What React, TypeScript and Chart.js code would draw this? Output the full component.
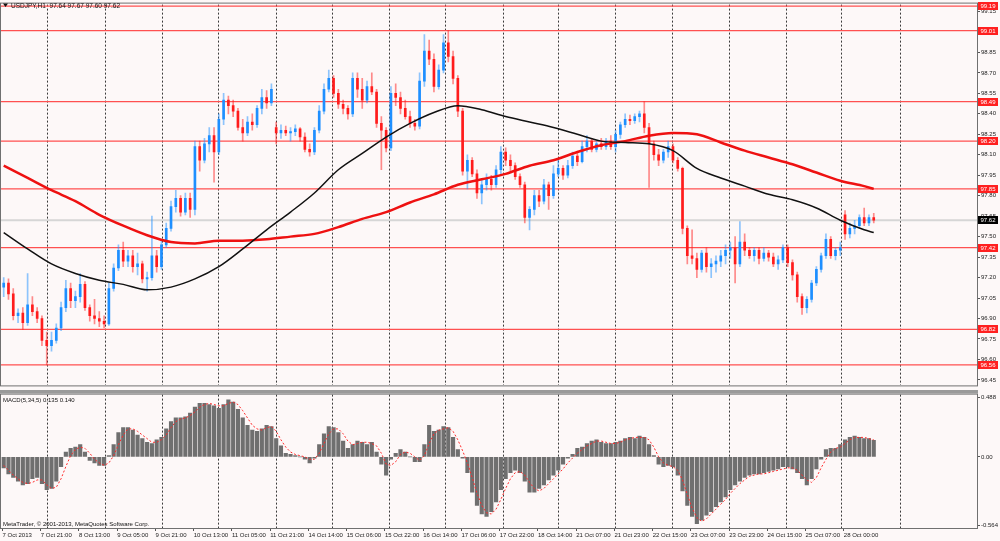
import React, { useEffect, useRef } from "react";
import { Chart, registerables } from "chart.js";

Chart.register(...registerables);

const FONT = "'Liberation Sans', Arial, sans-serif";
Chart.defaults.font.family = FONT;
Chart.defaults.font.size = 6;

const BG = "#fdf8f8";

const symbolTitle = "USDJPY,H1  97.64 97.67 97.60 97.62";
const macdTitle = "MACD(5,34,5) 0.135 0.140";
const copyright = "MetaTrader, \u00a9 2001-2013, MetaQuotes Software Corp.";

// 2-hour candles [open, high, low, close], 7 Oct 05:00 .. 28 Oct 13:00
const candles: number[][] = [
  [97.13, 97.2, 97.06, 97.16], [97.16, 97.19, 97.04, 97.08], [97.08, 97.12, 96.89, 96.92], [96.92, 96.97, 96.87, 96.94],
  [96.94, 96.98, 96.82, 96.87], [96.87, 97.23, 96.85, 97.0], [97.0, 97.06, 96.92, 96.95], [96.95, 96.98, 96.87, 96.9],
  [96.9, 96.92, 96.7, 96.74], [96.74, 96.8, 96.56, 96.7], [96.7, 96.8, 96.66, 96.74], [96.74, 96.86, 96.72, 96.83],
  [96.83, 97.02, 96.81, 96.98], [96.98, 97.18, 96.95, 97.12], [97.12, 97.16, 96.98, 97.03], [97.03, 97.1, 96.98, 97.06],
  [97.06, 97.23, 97.02, 97.15], [97.15, 97.17, 96.96, 96.98], [96.98, 97.0, 96.88, 96.92], [96.92, 97.04, 96.86, 96.9],
  [96.9, 96.95, 96.84, 96.88], [96.88, 96.92, 96.83, 96.86], [96.86, 97.16, 96.85, 97.12], [97.12, 97.3, 97.1, 97.27],
  [97.27, 97.44, 97.25, 97.4], [97.4, 97.46, 97.28, 97.32], [97.32, 97.4, 97.28, 97.36], [97.36, 97.4, 97.24, 97.28],
  [97.28, 97.38, 97.22, 97.3], [97.3, 97.32, 97.16, 97.19], [97.19, 97.24, 97.1, 97.2], [97.2, 97.65, 97.18, 97.36],
  [97.36, 97.4, 97.24, 97.28], [97.28, 97.48, 97.26, 97.44], [97.44, 97.6, 97.42, 97.56], [97.56, 97.76, 97.54, 97.72],
  [97.72, 97.84, 97.68, 97.78], [97.78, 97.8, 97.65, 97.68], [97.68, 97.82, 97.66, 97.78], [97.78, 97.82, 97.64, 97.7],
  [97.7, 98.2, 97.66, 98.16], [98.16, 98.2, 97.98, 98.06], [98.06, 98.22, 98.04, 98.18], [98.18, 98.3, 98.12, 98.24],
  [98.24, 98.3, 97.9, 98.12], [98.12, 98.4, 98.1, 98.36], [98.36, 98.55, 98.32, 98.5], [98.5, 98.53, 98.4, 98.46],
  [98.46, 98.5, 98.38, 98.42], [98.42, 98.44, 98.28, 98.3], [98.3, 98.36, 98.2, 98.26], [98.26, 98.38, 98.24, 98.34],
  [98.34, 98.4, 98.28, 98.32], [98.32, 98.46, 98.3, 98.44], [98.44, 98.58, 98.4, 98.52], [98.52, 98.57, 98.44, 98.48],
  [98.48, 98.62, 98.46, 98.58], [98.3, 98.34, 98.18, 98.26], [98.26, 98.32, 98.22, 98.28], [98.28, 98.31, 98.24, 98.26],
  [98.26, 98.3, 98.2, 98.27], [98.27, 98.32, 98.24, 98.29], [98.29, 98.3, 98.2, 98.23], [98.23, 98.26, 98.12, 98.14],
  [98.14, 98.18, 98.09, 98.12], [98.12, 98.3, 98.1, 98.28], [98.28, 98.46, 98.26, 98.42], [98.42, 98.62, 98.4, 98.58],
  [98.58, 98.72, 98.56, 98.66], [98.66, 98.68, 98.52, 98.55], [98.55, 98.58, 98.44, 98.47], [98.47, 98.5, 98.4, 98.44],
  [98.44, 98.46, 98.36, 98.4], [98.4, 98.7, 98.38, 98.66], [98.66, 98.7, 98.52, 98.58], [98.58, 98.66, 98.44, 98.5],
  [98.5, 98.64, 98.48, 98.6], [98.6, 98.7, 98.54, 98.56], [98.56, 98.58, 98.3, 98.33], [98.33, 98.38, 97.99, 98.28],
  [98.28, 98.3, 98.12, 98.15], [98.15, 98.6, 98.13, 98.55], [98.55, 98.62, 98.46, 98.52], [98.52, 98.56, 98.4, 98.44],
  [98.44, 98.5, 98.36, 98.38], [98.38, 98.42, 98.3, 98.33], [98.33, 98.36, 98.28, 98.31], [98.31, 98.7, 98.29, 98.64],
  [98.64, 98.98, 98.6, 98.86], [98.86, 98.94, 98.76, 98.8], [98.8, 98.84, 98.56, 98.6], [98.6, 98.76, 98.58, 98.72],
  [98.72, 98.98, 98.7, 98.92], [98.92, 99.01, 98.78, 98.82], [98.82, 98.86, 98.62, 98.66], [98.66, 98.68, 98.38, 98.42],
  [98.42, 98.44, 97.95, 97.98], [97.98, 98.1, 97.85, 98.06], [98.06, 98.08, 97.94, 97.96], [97.96, 97.99, 97.78, 97.82],
  [97.82, 97.92, 97.74, 97.88], [97.88, 97.96, 97.84, 97.92], [97.92, 97.95, 97.84, 97.88], [97.88, 98.02, 97.86, 97.99],
  [97.99, 98.16, 97.96, 98.12], [98.12, 98.15, 98.02, 98.06], [98.06, 98.1, 97.98, 98.02], [98.02, 98.04, 97.92, 97.94],
  [97.94, 97.96, 97.86, 97.88], [97.88, 97.9, 97.6, 97.64], [97.64, 97.72, 97.55, 97.7], [97.7, 97.84, 97.66, 97.8],
  [97.8, 97.84, 97.72, 97.76], [97.76, 97.92, 97.74, 97.88], [97.88, 97.9, 97.7, 97.8], [97.8, 98.02, 97.78, 97.96],
  [97.96, 98.06, 97.94, 98.0], [98.0, 98.02, 97.92, 97.95], [97.95, 98.06, 97.93, 98.02], [98.02, 98.12, 98.0, 98.09],
  [98.09, 98.12, 98.02, 98.05], [98.05, 98.2, 98.04, 98.16], [98.16, 98.24, 98.12, 98.2], [98.2, 98.22, 98.12, 98.14],
  [98.14, 98.2, 98.12, 98.18], [98.18, 98.22, 98.14, 98.16], [98.16, 98.22, 98.14, 98.2], [98.2, 98.24, 98.14, 98.16],
  [98.16, 98.28, 98.12, 98.25], [98.25, 98.34, 98.22, 98.32], [98.32, 98.4, 98.3, 98.36], [98.36, 98.39, 98.32, 98.35],
  [98.35, 98.4, 98.33, 98.38], [98.38, 98.42, 98.34, 98.4], [98.4, 98.49, 98.26, 98.3], [98.3, 98.33, 97.86, 98.18],
  [98.18, 98.2, 98.06, 98.1], [98.1, 98.14, 98.02, 98.06], [98.06, 98.14, 98.04, 98.12], [98.12, 98.2, 98.08, 98.16],
  [98.16, 98.18, 98.04, 98.06], [98.06, 98.08, 97.98, 98.0], [98.0, 98.01, 97.52, 97.56], [97.56, 97.58, 97.3, 97.36],
  [97.36, 97.55, 97.3, 97.34], [97.34, 97.38, 97.2, 97.26], [97.26, 97.4, 97.24, 97.38], [97.38, 97.42, 97.24, 97.28],
  [97.28, 97.34, 97.2, 97.3], [97.3, 97.36, 97.24, 97.32], [97.32, 97.4, 97.28, 97.36], [97.36, 97.44, 97.3, 97.4],
  [97.4, 97.46, 97.34, 97.42], [97.42, 97.5, 97.16, 97.3], [97.3, 97.61, 97.28, 97.46], [97.46, 97.52, 97.36, 97.4],
  [97.4, 97.42, 97.34, 97.36], [97.36, 97.42, 97.32, 97.4], [97.4, 97.42, 97.3, 97.34], [97.34, 97.42, 97.32, 97.38],
  [97.38, 97.4, 97.32, 97.35], [97.35, 97.38, 97.28, 97.3], [97.3, 97.36, 97.26, 97.33], [97.33, 97.44, 97.31, 97.42],
  [97.42, 97.44, 97.28, 97.31], [97.31, 97.33, 97.18, 97.22], [97.22, 97.24, 97.02, 97.06], [97.06, 97.08, 96.93, 96.98],
  [96.98, 97.06, 96.94, 97.04], [97.04, 97.18, 97.02, 97.16], [97.16, 97.28, 97.14, 97.26], [97.26, 97.38, 97.24, 97.36],
  [97.36, 97.52, 97.34, 97.48], [97.48, 97.5, 97.34, 97.36], [97.36, 97.42, 97.33, 97.4], [97.4, 97.46, 97.36, 97.42],
  [97.66, 97.69, 97.48, 97.52], [97.52, 97.6, 97.49, 97.56], [97.56, 97.62, 97.52, 97.58], [97.58, 97.66, 97.56, 97.64],
  [97.64, 97.71, 97.58, 97.6], [97.6, 97.66, 97.58, 97.64], [97.64, 97.67, 97.6, 97.62],
];

// moving averages, read at these candle indexes
const maIndex = [0, 5, 10, 15, 20, 25, 30, 35, 40, 45, 50, 55, 60, 65, 70, 75, 80, 85, 90, 95, 100, 105, 110, 115, 120, 125, 130, 135, 140, 145, 150, 155, 160, 165, 170, 175, 180, 182];
const maBlack = [97.53, 97.41, 97.3, 97.23, 97.18, 97.15, 97.11, 97.13, 97.19, 97.28, 97.41, 97.55, 97.68, 97.82, 97.99, 98.11, 98.23, 98.33, 98.41, 98.46, 98.43, 98.38, 98.34, 98.3, 98.25, 98.2, 98.19, 98.18, 98.13, 98.0, 97.93, 97.87, 97.81, 97.77, 97.71, 97.62, 97.55, 97.53];
const maRed = [98.02, 97.93, 97.84, 97.76, 97.66, 97.58, 97.51, 97.46, 97.45, 97.47, 97.47, 97.48, 97.5, 97.52, 97.57, 97.63, 97.68, 97.75, 97.81, 97.88, 97.92, 97.96, 98.02, 98.06, 98.12, 98.17, 98.2, 98.24, 98.26, 98.25, 98.19, 98.13, 98.08, 98.03, 97.97, 97.91, 97.87, 97.85];

// MACD(5,34,5) main histogram and signal, one value per candle
const macdHist = [
  -0.09, -0.14, -0.17, -0.2, -0.23, -0.22, -0.18, -0.17, -0.22, -0.27,
  -0.26, -0.2, -0.08, 0.04, 0.07, 0.08, 0.1, 0.04, -0.03, -0.05,
  -0.07, -0.07, 0.01, 0.1, 0.2, 0.24, 0.24, 0.22, 0.18, 0.15,
  0.12, 0.11, 0.14, 0.16, 0.23, 0.29, 0.32, 0.32, 0.33, 0.36,
  0.41, 0.44, 0.44, 0.43, 0.42, 0.4, 0.43, 0.47, 0.45, 0.39,
  0.32, 0.26, 0.22, 0.21, 0.23, 0.26, 0.25, 0.15, 0.09, 0.03,
  0.02, 0.01, 0.0, -0.02, -0.05, -0.01, 0.1, 0.19, 0.25, 0.24,
  0.2, 0.13, 0.07, 0.1, 0.13, 0.12, 0.1, 0.12, 0.04, -0.06,
  -0.15, -0.02, 0.03, 0.06, 0.04, 0.0, -0.04, -0.04, 0.1, 0.26,
  0.21, 0.22, 0.25, 0.24, 0.16, 0.06, -0.01, -0.13, -0.29, -0.4,
  -0.47, -0.49, -0.45, -0.37, -0.27, -0.18, -0.13, -0.11, -0.13, -0.2,
  -0.29, -0.29, -0.26, -0.23, -0.19, -0.15, -0.11, -0.06, -0.01, 0.02,
  0.07, 0.08, 0.11, 0.13, 0.14, 0.12, 0.11, 0.11, 0.12, 0.13,
  0.15, 0.16, 0.15, 0.17, 0.16, 0.1, 0.01, -0.06, -0.08, -0.07,
  -0.08, -0.15, -0.28, -0.4, -0.49, -0.55, -0.52, -0.48, -0.45, -0.41,
  -0.37, -0.33, -0.27, -0.23, -0.2, -0.17, -0.15, -0.14, -0.14, -0.13,
  -0.12, -0.11, -0.1, -0.08, -0.08, -0.1, -0.13, -0.18, -0.23, -0.18,
  -0.1, -0.02, 0.06, 0.07, 0.07, 0.1, 0.14, 0.16, 0.17, 0.16,
  0.15, 0.15, 0.135,
];
const macdSignal = [
  -0.07, -0.11, -0.15, -0.18, -0.21, -0.22, -0.21, -0.19, -0.19, -0.23,
  -0.26, -0.25, -0.18, -0.08, 0.01, 0.06, 0.08, 0.07, 0.03, -0.02,
  -0.05, -0.07, -0.05, 0.01, 0.1, 0.18, 0.23, 0.23, 0.21, 0.18,
  0.15, 0.12, 0.12, 0.14, 0.18, 0.24, 0.29, 0.31, 0.32, 0.34,
  0.37, 0.41, 0.43, 0.44, 0.43, 0.42, 0.42, 0.44, 0.45, 0.43,
  0.38, 0.32, 0.26, 0.23, 0.22, 0.24, 0.25, 0.21, 0.14, 0.08,
  0.04, 0.02, 0.01, 0.0, -0.02, -0.02, 0.03, 0.11, 0.19, 0.23,
  0.23, 0.19, 0.13, 0.1, 0.11, 0.12, 0.12, 0.11, 0.09, 0.03,
  -0.06, -0.07, -0.04, 0.02, 0.04, 0.03, 0.0, -0.03, 0.01, 0.11,
  0.19, 0.22, 0.23, 0.24, 0.21, 0.14, 0.05, -0.05, -0.17, -0.3,
  -0.4, -0.46, -0.47, -0.43, -0.35, -0.26, -0.18, -0.13, -0.12, -0.15,
  -0.21, -0.26, -0.28, -0.26, -0.22, -0.18, -0.14, -0.1, -0.05, -0.01,
  0.03, 0.06, 0.09, 0.11, 0.13, 0.13, 0.12, 0.11, 0.11, 0.12,
  0.14, 0.15, 0.16, 0.16, 0.16, 0.14, 0.08, 0.0, -0.05, -0.07,
  -0.08, -0.11, -0.19, -0.31, -0.42, -0.5, -0.53, -0.51, -0.47, -0.43,
  -0.39, -0.35, -0.3, -0.26, -0.22, -0.19, -0.16, -0.15, -0.14, -0.14,
  -0.13, -0.12, -0.11, -0.1, -0.09, -0.09, -0.11, -0.15, -0.19, -0.21,
  -0.17, -0.09, -0.02, 0.04, 0.07, 0.08, 0.11, 0.14, 0.16, 0.16,
  0.16, 0.15, 0.14,
];

const levels = [99.19, 99.01, 98.49, 98.2, 97.85, 97.42, 96.82, 96.56];
const lastPrice = 97.62;

const priceTicks = [96.45, 96.6, 96.75, 96.9, 97.05, 97.2, 97.35, 97.5, 97.65, 97.8, 97.95, 98.1, 98.25, 98.4, 98.55, 98.7, 98.85, 99.0, 99.15];
const macdTicks = [0.488, 0, -0.564];
const macdTickLabels = ["0.488", "0.00", "-0.564"];

// one label every 16 hourly bars
const timeLabels = [
  "7 Oct 2013", "7 Oct 21:00", "8 Oct 13:00", "9 Oct 05:00", "9 Oct 21:00", "10 Oct 13:00",
  "11 Oct 05:00", "11 Oct 21:00", "14 Oct 14:00", "15 Oct 06:00", "15 Oct 22:00", "16 Oct 14:00",
  "17 Oct 06:00", "17 Oct 22:00", "18 Oct 14:00", "21 Oct 07:00", "21 Oct 23:00", "22 Oct 15:00",
  "23 Oct 07:00", "23 Oct 23:00", "24 Oct 15:00", "25 Oct 07:00", "28 Oct 00:00",
];
const labelEvery = 16;
// day separators (in hourly bars)
const gridHours = [19, 43, 67, 90.5, 114.5, 138, 162, 185.5, 209.5, 232.5, 256.5, 280.5, 304, 328, 351, 375.5];

const HOURS_PER_CANDLE = 2;
const X_MIN = -1.05;
const X_MAX = 407.7;
const AXIS_W = 23;
const PRICE_MIN = 96.4096;
const PRICE_MAX = 99.2006;
const MACD_MIN = -0.585;
const MACD_MAX = 0.512;

const hourOf = (k: number) => k * HOURS_PER_CANDLE + 0.5;

const gridAxis = {
  type: "linear" as const,
  position: "bottom" as const,
  min: X_MIN,
  max: X_MAX,
  offset: false,
  afterBuildTicks: (s: any) => {
    s.ticks = gridHours.map((v) => ({ value: v }));
  },
  ticks: { display: false },
  grid: { color: "#3a3a3a", lineWidth: 1, drawTicks: false, offset: false },
  border: { display: false, dash: [2, 2] },
  afterFit: (s: any) => {
    s.height = 0;
  },
};

const pricePlugin = {
  id: "mtPrice",
  afterDraw(chart: any) {
    const { ctx, chartArea } = chart;
    const y = chart.scales.y;
    ctx.save();
    ctx.strokeStyle = "#707070";
    ctx.lineWidth = 1;
    ctx.strokeRect(0.5, chartArea.top - 1.5, chartArea.right, chartArea.bottom - chartArea.top + 2);
    // title
    ctx.fillStyle = "#111";
    ctx.beginPath();
    ctx.moveTo(3, 3.5);
    ctx.lineTo(8, 3.5);
    ctx.lineTo(5.5, 7);
    ctx.closePath();
    ctx.fill();
    ctx.font = `6.5px ${FONT}`;
    ctx.textBaseline = "middle";
    ctx.fillText(symbolTitle, 11, 6);
    // level boxes
    ctx.font = `6px ${FONT}`;
    ctx.textAlign = "center";
    const box = (v: number, bg: string) => {
      const py = Math.round(y.getPixelForValue(v));
      ctx.fillStyle = bg;
      ctx.fillRect(chartArea.right + 1, py - 4, 20, 8);
      ctx.fillStyle = "#fff";
      ctx.fillText(v.toFixed(2), chartArea.right + 11, py);
    };
    levels.forEach((v) => box(v, "#ff2020"));
    box(lastPrice, "#000");
    ctx.restore();
  },
};

const macdPlugin = {
  id: "mtMacd",
  afterDraw(chart: any) {
    const { ctx, chartArea } = chart;
    ctx.save();
    ctx.strokeStyle = "#707070";
    ctx.lineWidth = 1;
    ctx.strokeRect(0.5, chartArea.top - 0.5, chartArea.right, chartArea.bottom - chartArea.top + 1);
    ctx.fillStyle = "#9a9a9a";
    ctx.fillRect(0, 0, chartArea.right + 1, chartArea.top - 1);
    ctx.fillStyle = "#111";
    ctx.font = `6px ${FONT}`;
    ctx.textBaseline = "middle";
    ctx.fillText(macdTitle, 3, chartArea.top + 6);
    ctx.fillText(copyright, 3, chartArea.bottom - 4);
    ctx.restore();
  },
};

const PriceChart = () => {
  const ref = useRef<HTMLCanvasElement>(null);
  useEffect(() => {
    if (!ref.current) return;
    const wick = candles.map((c, k) => ({ x: hourOf(k), y: [c[2], c[1]] }));
    const body = candles.map((c, k) => ({ x: hourOf(k), y: [c[0], c[3] === c[0] ? c[0] + 0.004 : c[3]] }));
    const upCol = candles.map((c) => (c[3] >= c[0] ? "#1e8fff" : "#ff1c1c"));
    const wickCol = candles.map((c) => (c[3] >= c[0] ? "rgba(30,143,255,0.5)" : "rgba(255,28,28,0.5)"));
    const levelSets = levels.map((v) => ({
      type: "line" as const,
      data: [{ x: X_MIN, y: v }, { x: X_MAX, y: v }],
      borderColor: "#ff5050",
      borderWidth: 1.2,
      pointRadius: 0,
      order: 6,
    }));
    const chart = new Chart(ref.current, {
      type: "bar",
      data: {
        datasets: [
          {
            type: "line",
            data: maIndex.map((k, i) => ({ x: hourOf(k), y: maBlack[i] })),
            borderColor: "#111",
            borderWidth: 1.5,
            pointRadius: 0,
            cubicInterpolationMode: "monotone",
            order: 0,
          },
          {
            type: "line",
            data: maIndex.map((k, i) => ({ x: hourOf(k), y: maRed[i] })),
            borderColor: "#ee1111",
            borderWidth: 2.5,
            pointRadius: 0,
            cubicInterpolationMode: "monotone",
            order: 1,
          },
          { type: "bar", data: body, backgroundColor: upCol, barThickness: 2, grouped: false, order: 2 },
          { type: "bar", data: wick, backgroundColor: wickCol, barThickness: 1, grouped: false, order: 3 },
          {
            type: "line",
            data: [{ x: X_MIN, y: lastPrice }, { x: X_MAX, y: lastPrice }],
            borderColor: "#d6d6d6",
            borderWidth: 2,
            pointRadius: 0,
            order: 7,
          },
          ...levelSets,
        ] as any,
      },
      options: {
        animation: false,
        responsive: false,
        events: [],
        layout: { padding: { top: 2, bottom: 2, left: 0, right: 0 } },
        plugins: { legend: { display: false }, tooltip: { enabled: false } },
        scales: {
          x: { type: "linear", min: X_MIN, max: X_MAX, offset: false, display: false },
          xg: gridAxis,
          y: {
            type: "linear",
            position: "right",
            min: PRICE_MIN,
            max: PRICE_MAX,
            afterBuildTicks: (s: any) => {
              s.ticks = priceTicks.map((v) => ({ value: v }));
            },
            ticks: {
              autoSkip: false,
              padding: 1,
              color: "#222",
              font: { size: 6 },
              callback: (v: any) => Number(v).toFixed(2),
            },
            grid: { drawOnChartArea: false, tickLength: 3, tickColor: "#555" },
            border: { color: "#555" },
            afterFit: (s: any) => {
              s.width = AXIS_W;
            },
          },
        } as any,
      },
      plugins: [pricePlugin],
    });
    return () => chart.destroy();
  }, []);
  return <canvas ref={ref} width={1000} height={390} style={{ position: "absolute", left: 0, top: 0 }} />;
};

const MacdChart = () => {
  const ref = useRef<HTMLCanvasElement>(null);
  useEffect(() => {
    if (!ref.current) return;
    const chart = new Chart(ref.current, {
      type: "bar",
      data: {
        datasets: [
          {
            type: "line",
            data: macdSignal.map((v, k) => ({ x: hourOf(k), y: v })),
            borderColor: "#ff2a2a",
            borderWidth: 1,
            borderDash: [2, 2],
            pointRadius: 0,
            order: 0,
          },
          {
            type: "bar",
            data: macdHist.map((v, k) => ({ x: hourOf(k), y: v })),
            backgroundColor: "#6f6f6f",
            barThickness: 3.5,
            grouped: false,
            order: 1,
          },
        ] as any,
      },
      options: {
        animation: false,
        responsive: false,
        events: [],
        layout: { padding: { top: 2, bottom: 0, left: 0, right: 0 } },
        plugins: { legend: { display: false }, tooltip: { enabled: false } },
        scales: {
          x: {
            type: "linear",
            position: "bottom",
            min: X_MIN,
            max: X_MAX,
            offset: false,
            afterBuildTicks: (s: any) => {
              s.ticks = timeLabels.map((_, i) => ({ value: i * labelEvery }));
            },
            ticks: {
              autoSkip: false,
              maxRotation: 0,
              minRotation: 0,
              align: "start",
              padding: 1,
              color: "#222",
              font: { size: 6 },
              callback: (_: any, i: number) => timeLabels[i],
            },
            grid: { drawOnChartArea: false, tickLength: 3, tickColor: "#555", offset: false },
            border: { color: "#555" },
            afterFit: (s: any) => {
              s.height = 13;
            },
          },
          xg: gridAxis,
          y: {
            type: "linear",
            position: "right",
            min: MACD_MIN,
            max: MACD_MAX,
            afterBuildTicks: (s: any) => {
              s.ticks = macdTicks.map((v) => ({ value: v }));
            },
            ticks: {
              autoSkip: false,
              padding: 1,
              color: "#222",
              font: { size: 6 },
              callback: (_: any, i: number) => macdTickLabels[i],
            },
            grid: { drawOnChartArea: false, tickLength: 3, tickColor: "#555" },
            border: { color: "#555" },
            afterFit: (s: any) => {
              s.width = AXIS_W;
            },
          },
        } as any,
      },
      plugins: [macdPlugin],
    });
    return () => chart.destroy();
  }, []);
  return <canvas ref={ref} width={1000} height={151} style={{ position: "absolute", left: 0, top: 390 }} />;
};

export default function App() {
  return (
    <div
      style={{
        position: "fixed",
        left: 0,
        top: 0,
        width: 1000,
        height: 541,
        background: BG,
        overflow: "hidden",
      }}
    >
      <PriceChart />
      <MacdChart />
    </div>
  );
}
